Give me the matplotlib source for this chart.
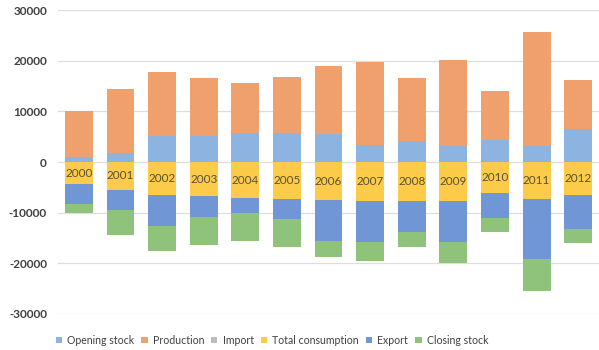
import matplotlib
matplotlib.use("Agg")
import matplotlib.pyplot as plt
import numpy as np

plt.rcParams['font.family'] = ['Lato', 'DejaVu Sans']

years = ["2000", "2001", "2002", "2003", "2004", "2005", "2006",
         "2007", "2008", "2009", "2010", "2011", "2012"]

# Supply side (positive)
opening_stock = [1050, 1770, 5050, 5180, 5780, 5640, 5580, 3270, 4060, 3150, 4340, 3080, 6500]
production = [9120, 12730, 12690, 11440, 9920, 11120, 13350, 16570, 12630, 16960, 9720, 22620, 9730]
imports = [0, 0, 0, 0, 0, 0, 0, 0, 0, 0, 0, 0, 0]

# Use side (drawn below zero)
total_consumption = [4340, 5460, 6450, 6710, 7100, 7370, 7500, 7690, 7630, 7630, 6180, 7370, 6450]
export = [3880, 4080, 6240, 4080, 3030, 3940, 8090, 8090, 6110, 8220, 4930, 11760, 6700]
closing_stock = [1840, 4920, 4800, 5640, 5450, 5390, 3200, 3800, 2960, 4120, 2630, 6310, 2890]

colors = {
    "Opening stock": "#8db4e0",
    "Production": "#efa06c",
    "Import": "#bdbdbd",
    "Total consumption": "#fdcb4a",
    "Export": "#7196d6",
    "Closing stock": "#8fc27a",
}

fig = plt.figure(figsize=(5.99, 3.5), dpi=100)
ax = fig.add_axes([0.097, 0.103, 0.903, 0.868])

x = np.arange(len(years))
w = 0.67

pos_series = [("Opening stock", opening_stock), ("Production", production), ("Import", imports)]
neg_series = [("Total consumption", total_consumption), ("Export", export), ("Closing stock", closing_stock)]

handles = {}
bottom = np.zeros(len(years))
for name, vals in pos_series:
    v = np.array(vals, dtype=float)
    handles[name] = ax.bar(x, v, w, bottom=bottom, color=colors[name], zorder=2, linewidth=0)
    bottom += v

bottom = np.zeros(len(years))
for name, vals in neg_series:
    v = -np.array(vals, dtype=float)
    handles[name] = ax.bar(x, v, w, bottom=bottom, color=colors[name], zorder=2, linewidth=0)
    bottom += v

# Year labels inside the consumption segment
for xi, yr, c in zip(x, years, total_consumption):
    ax.text(xi, -c / 2, yr, ha="center", va="center", fontsize=8.5,
            color="#5c5230", zorder=3)

ax.set_xlim(-0.5, len(years) - 0.5)
ax.set_ylim(-30000, 30000)
ax.set_yticks([-30000, -20000, -10000, 0, 10000, 20000, 30000])
ax.set_yticklabels(["-30000", "-20000", "-10000", "0", "10000", "20000", "30000"])
ax.set_xticks([])
ax.tick_params(axis="y", length=0, labelsize=8.5, labelcolor="#404040", pad=8)
for lab in ax.get_yticklabels():
    lab.set_fontweight("bold")
ax.yaxis.grid(True, color="#dedede", linewidth=0.9, zorder=0)
for s in ax.spines.values():
    s.set_visible(False)

order = ["Opening stock", "Production", "Import", "Total consumption", "Export", "Closing stock"]
leg = fig.legend([handles[n] for n in order], order, loc="center",
                 bbox_to_anchor=(0.454, 0.028), ncol=6, frameon=False,
                 fontsize=7.6, handlelength=0.6, handleheight=0.6,
                 handletextpad=0.5, columnspacing=0.65)
for t in leg.get_texts():
    t.set_color("#404040")

fig.savefig("out.png", dpi=100)
